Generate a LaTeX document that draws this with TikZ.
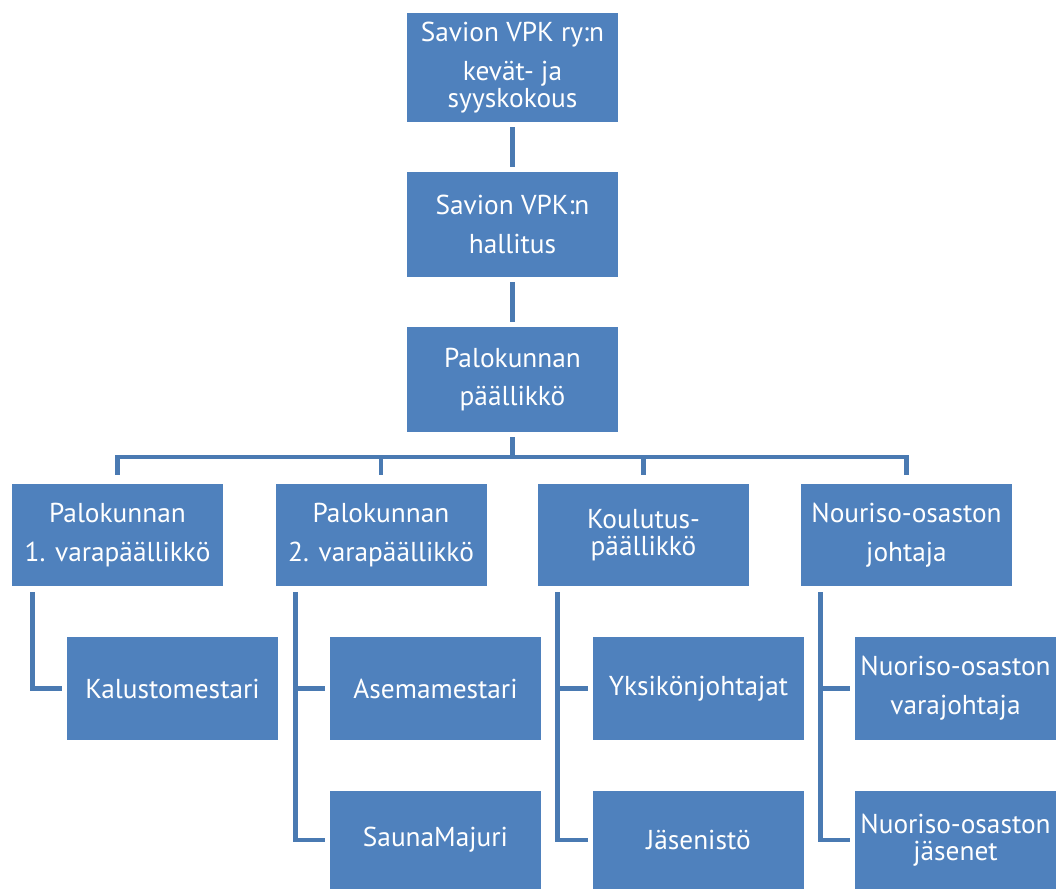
\documentclass[tikz,border=0pt]{standalone}
\usepackage{fontspec}
\setmainfont{PT Sans}
\usetikzlibrary{calc}
\definecolor{boxblue}{HTML}{4F81BD}
\definecolor{lineblue}{HTML}{4A7AB2}
\begin{document}
\begin{tikzpicture}[x=0.75pt,y=-0.75pt,
  box/.style={draw=none, fill=boxblue, text=white, align=center, inner sep=0pt,
    font=\fontsize{20.5}{20.5}\selectfont, minimum width=158.25pt},
  conn/.style={draw=lineblue, line width=3.6pt, line join=miter}]
\useasboundingbox (0,0) rectangle (1056,889);
% top levels
\node[box, minimum height=81.75pt] (top) at (512.5,67.5) {Savion VPK ry:n\\[8.5pt]kevät- ja\\syyskokous};
\node[box, minimum height=78.75pt] (hall) at (512.5,224.5) {Savion VPK:n\\[8.5pt]hallitus};
\node[box, minimum height=78.75pt] (pal) at (512.5,379.5) {Palokunnan\\[8.5pt]päällikkö};
% second row
\node[box, minimum height=76.5pt] (r1) at (117.5,535) {Palokunnan\\[8.5pt]1. varapäällikkö};
\node[box, minimum height=76.5pt] (r2) at (381,535) {Palokunnan\\[8.5pt]2. varapäällikkö};
\node[box, minimum height=76.5pt] (r3) at (643.5,535) {Koulutus-\\päällikkö};
\node[box, minimum height=76.5pt] (r4) at (906.5,535) {Nouriso-osaston\\[8.5pt]johtaja};
% children
\node[box, minimum height=77.25pt] (c1) at (172.5,688.5) {Kalustomestari};
\node[box, minimum height=77.25pt] (c2a) at (435.5,688.5) {Asemamestari};
\node[box, minimum height=73.5pt] (c2b) at (435.5,840) {SaunaMajuri};
\node[box, minimum height=77.25pt] (c3a) at (698.5,688.5) {Yksikönjohtajat};
\node[box, minimum height=73.5pt] (c3b) at (698.5,840) {Jäsenistö};
\node[box, minimum height=77.25pt, minimum width=150.75pt] (c4a) at (955.5,688.5) {Nuoriso-osaston\\[8.5pt]varajohtaja};
\node[box, minimum height=73.5pt, minimum width=150.75pt] (c4b) at (955.5,840) {Nuoriso-osaston\\jäsenet};
% connectors top
\draw[conn] ($(top.south)+(0,5)$) -- ($(hall.north)+(0,-5)$);
\draw[conn] ($(hall.south)+(0,5)$) -- ($(pal.north)+(0,-5)$);
\coordinate (bus) at (512.5,457);
\draw[conn] ($(pal.south)+(0,5)$) -- (bus);
\draw[conn] ($(r1.north)+(0,-9)$) -- (r1.north |- bus) -- (r4.north |- bus) -- ($(r4.north)+(0,-9)$);
\draw[conn] (r2.north |- bus) -- ($(r2.north)+(0,-9)$);
\draw[conn] (r3.north |- bus) -- ($(r3.north)+(0,-9)$);
% connectors to children
\coordinate (v1) at ($(r1.south west)+(21,6)$);
\coordinate (v2) at ($(r2.south west)+(20,6)$);
\coordinate (v3) at ($(r3.south west)+(20,6)$);
\coordinate (v4) at ($(r4.south west)+(20,6)$);
\draw[conn] (v1) |- ($(c1.west)+(-5,0)$);
\draw[conn] (v2) |- ($(c2b.west)+(-5,0)$);
\draw[conn] (v2 |- c2a.west) -- ($(c2a.west)+(-5,0)$);
\draw[conn] (v3) |- ($(c3b.west)+(-5,0)$);
\draw[conn] (v3 |- c3a.west) -- ($(c3a.west)+(-5,0)$);
\draw[conn] (v4) |- ($(c4b.west)+(-5,0)$);
\draw[conn] (v4 |- c4a.west) -- ($(c4a.west)+(-5,0)$);
\end{tikzpicture}
\end{document}
